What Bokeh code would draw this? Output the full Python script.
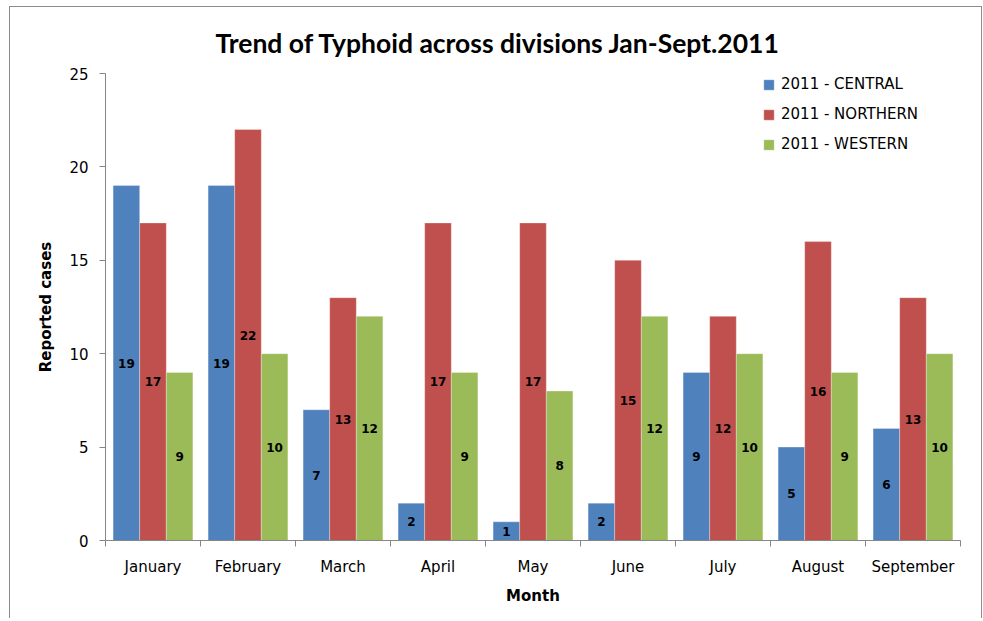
from bokeh.plotting import figure
from bokeh.models import ColumnDataSource, Range1d, FixedTicker, Legend, LegendItem
from bokeh.core.properties import value
from bokeh.embed import file_html
from bokeh.resources import INLINE

months = ["January", "February", "March", "April", "May", "June", "July", "August", "September"]
central = [19, 19, 7, 2, 1, 2, 9, 5, 6]
northern = [17, 22, 13, 17, 17, 15, 12, 16, 13]
western = [9, 10, 12, 9, 8, 12, 10, 9, 10]
series_names = ["2011 - CENTRAL", "2011 - NORTHERN", "2011 - WESTERN"]
colors = ["#4F81BD", "#C0504D", "#9BBB59"]
y_ticks = [0, 5, 10, 15, 20, 25]

centers = [i + 0.5 for i in range(len(months))]
bw = 0.28
offsets = [-bw, 0.0, bw]

p = figure(width=973, height=612, output_backend="svg", toolbar_location=None,
           x_range=Range1d(0, len(months)), y_range=Range1d(0, 25),
           min_border_left=95, min_border_right=23, min_border_top=66, min_border_bottom=79)
p.outline_line_color = None
p.xgrid.visible = False
p.ygrid.visible = False
p.styles = {"border": "1px solid #8c8c8c", "border-bottom": "none",
            "margin-left": "9px", "margin-top": "6px"}

p.title.text = "Trend of Typhoid across divisions Jan-Sept.2011"
p.title.align = "left"
p.title.text_font = "Lato"
p.title.text_font_style = "bold"
p.title.text_font_size = "26.5px"
p.title.text_color = "black"
p.title.offset = 110
p.title.standoff = 29

items = []
for vals, name, col, off in zip([central, northern, western], series_names, colors, offsets):
    src = ColumnDataSource(dict(x=[c + off for c in centers], top=vals,
                                mid=[v / 2 for v in vals], lbl=[str(v) for v in vals]))
    r = p.vbar(x="x", top="top", bottom=0, width=bw, source=src, fill_color=col,
               line_color="white", line_alpha=0.5, line_width=0.6)
    p.text(x="x", y="mid", text="lbl", source=src, text_align="center", text_baseline="middle",
           text_font=value("DejaVu Sans"), text_font_style="bold", text_font_size="12px",
           text_color="black")
    items.append(LegendItem(label=name, renderers=[r]))

legend = Legend(items=items, location=(657, 386), padding=0, margin=0, spacing=10,
                glyph_width=13, glyph_height=13, label_height=20, label_standoff=6,
                label_text_font="DejaVu Sans", label_text_font_size="15px",
                label_text_color="black",
                border_line_color=None, background_fill_alpha=0)
p.add_layout(legend)

xa = p.xaxis[0]
xa.ticker = FixedTicker(ticks=centers, minor_ticks=list(range(len(months) + 1)))
xa.major_label_overrides = {c: m for c, m in zip(centers, months)}
xa.major_tick_out = 0
xa.major_tick_in = 0
xa.minor_tick_out = 6
xa.minor_tick_in = 0
xa.axis_line_color = "#868686"
xa.minor_tick_line_color = "#868686"
xa.major_label_text_font = "DejaVu Sans"
xa.major_label_text_font_size = "15px"
xa.major_label_text_color = "black"
xa.major_label_standoff = 11
xa.axis_label = "Month"
xa.axis_label_text_font = "DejaVu Sans"
xa.axis_label_text_font_style = "bold"
xa.axis_label_text_font_size = "15px"
xa.axis_label_text_color = "black"
xa.axis_label_standoff = 8

ya = p.yaxis[0]
ya.ticker = FixedTicker(ticks=y_ticks, minor_ticks=[])
ya.major_tick_out = 6
ya.major_tick_in = 0
ya.axis_line_color = "#868686"
ya.major_tick_line_color = "#868686"
ya.major_label_text_font = "DejaVu Sans"
ya.major_label_text_font_size = "15px"
ya.major_label_text_color = "black"
ya.major_label_standoff = 11
ya.axis_label = "Reported cases"
ya.axis_label_text_font = "DejaVu Sans"
ya.axis_label_text_font_style = "bold"
ya.axis_label_text_font_size = "15px"
ya.axis_label_text_color = "black"
ya.axis_label_standoff = 11

open("out.html", "w").write(file_html(p, INLINE))
